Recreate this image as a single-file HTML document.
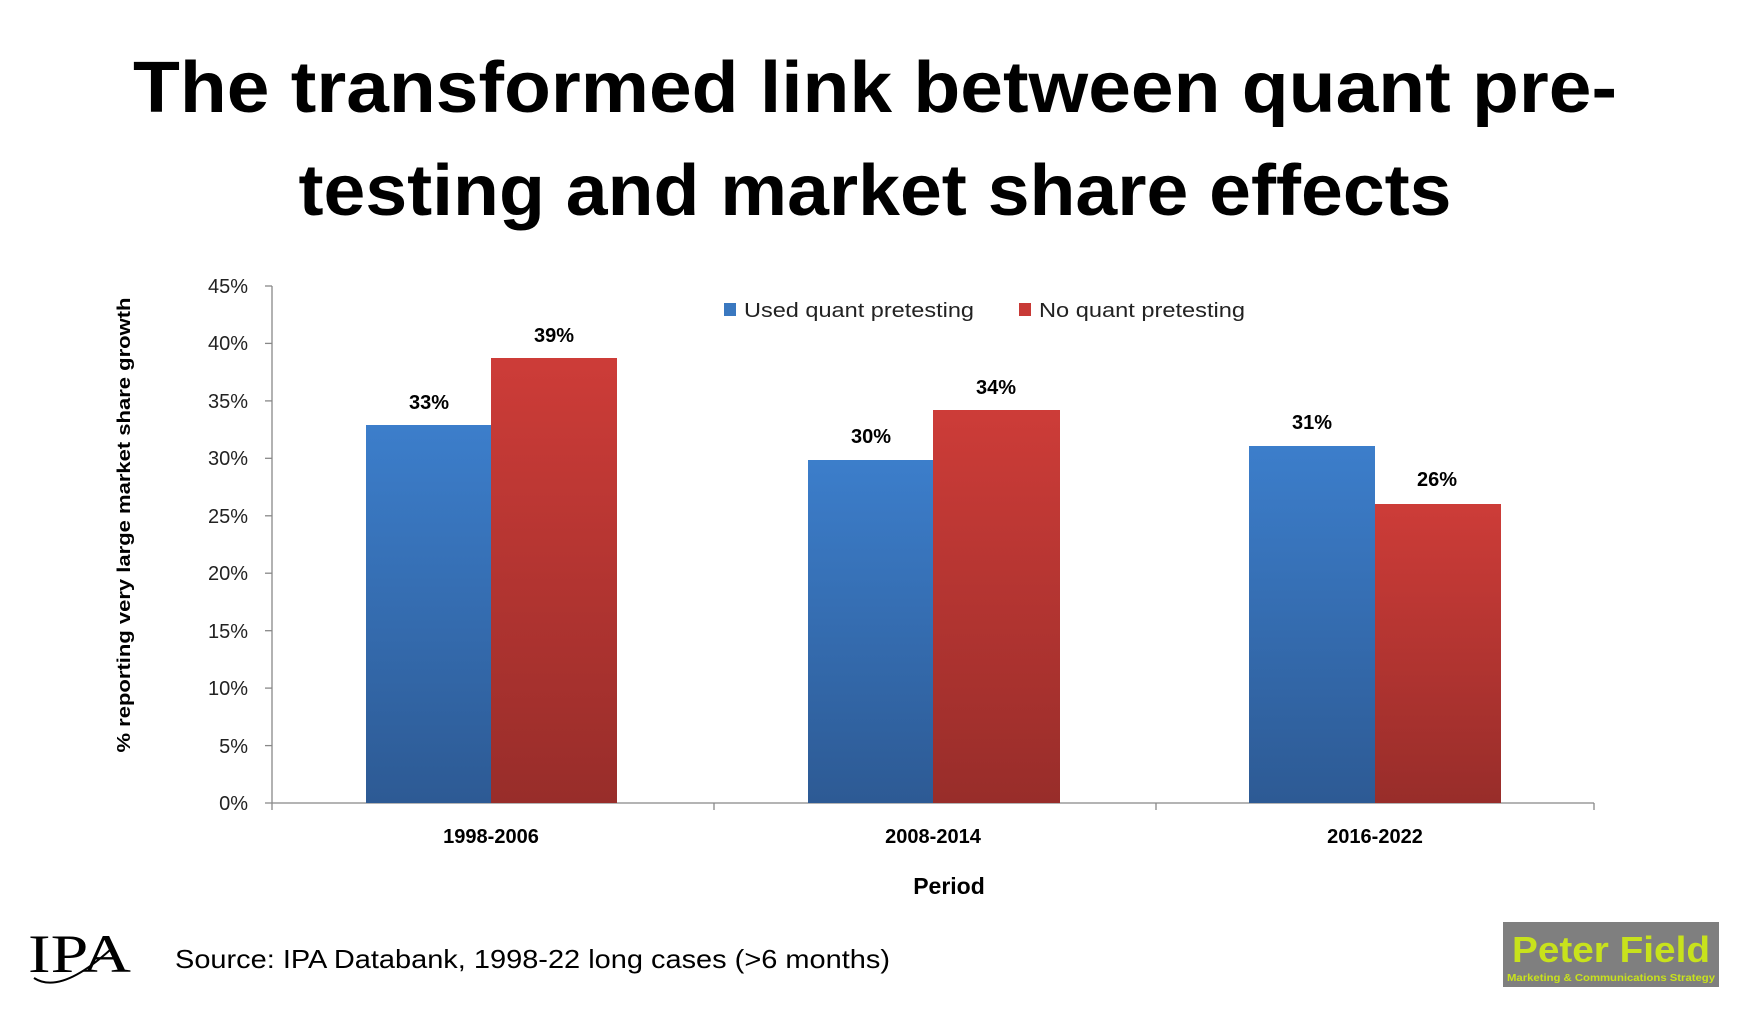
<!DOCTYPE html>
<html><head><meta charset="utf-8"><style>html,body{margin:0;padding:0;background:#fff;}svg{display:block;}</style></head>
<body>
<svg width="1756" height="1016" viewBox="0 0 1756 1016" xmlns="http://www.w3.org/2000/svg" font-family="Liberation Sans, sans-serif">
<defs>
<linearGradient id="b" x1="0" y1="0" x2="0" y2="1"><stop offset="0" stop-color="#3c7ecb"/><stop offset="1" stop-color="#2d5a94"/></linearGradient>
<linearGradient id="r" x1="0" y1="0" x2="0" y2="1"><stop offset="0" stop-color="#cd3c38"/><stop offset="1" stop-color="#982d2a"/></linearGradient>
</defs>
<text x="875" y="112" text-anchor="middle" font-size="72" font-weight="bold" textLength="1484" lengthAdjust="spacingAndGlyphs">The transformed link between quant pre-</text>
<text x="875" y="215" text-anchor="middle" font-size="72" font-weight="bold" textLength="1153" lengthAdjust="spacingAndGlyphs">testing and market share effects</text>
<!-- axes -->
<g stroke="#888" stroke-width="1.3">
<line x1="272" y1="286" x2="272" y2="810"/>
<line x1="265" y1="803" x2="1594" y2="803"/>
<line x1="714" y1="803" x2="714" y2="810"/>
<line x1="1156" y1="803" x2="1156" y2="810"/>
<line x1="1594" y1="803" x2="1594" y2="810"/>
<line x1="265" y1="286" x2="272" y2="286"/><line x1="265" y1="343.4" x2="272" y2="343.4"/><line x1="265" y1="400.9" x2="272" y2="400.9"/><line x1="265" y1="458.3" x2="272" y2="458.3"/><line x1="265" y1="515.8" x2="272" y2="515.8"/><line x1="265" y1="573.2" x2="272" y2="573.2"/><line x1="265" y1="630.7" x2="272" y2="630.7"/><line x1="265" y1="688.1" x2="272" y2="688.1"/><line x1="265" y1="745.6" x2="272" y2="745.6"/>
</g>
<g font-size="20" text-anchor="end" fill="#222">
<text x="248" y="293">45%</text><text x="248" y="350">40%</text><text x="248" y="408">35%</text><text x="248" y="465">30%</text><text x="248" y="523">25%</text><text x="248" y="580">20%</text><text x="248" y="638">15%</text><text x="248" y="695">10%</text><text x="248" y="753">5%</text><text x="248" y="810">0%</text>
</g>
<text transform="translate(130,525) rotate(-90)" text-anchor="middle" font-size="18" font-weight="bold" textLength="455" lengthAdjust="spacingAndGlyphs">% reporting very large market share growth</text>
<!-- bars -->
<rect x="366" y="425" width="125" height="378" fill="url(#b)"/>
<rect x="491" y="358" width="126" height="445" fill="url(#r)"/>
<rect x="808" y="460" width="125" height="343" fill="url(#b)"/>
<rect x="933" y="410" width="127" height="393" fill="url(#r)"/>
<rect x="1249" y="446" width="126" height="357" fill="url(#b)"/>
<rect x="1375" y="504" width="126" height="299" fill="url(#r)"/>
<g font-size="20" font-weight="bold" text-anchor="middle">
<text x="429" y="409">33%</text><text x="554" y="342">39%</text>
<text x="871" y="443">30%</text><text x="996" y="394">34%</text>
<text x="1312" y="429">31%</text><text x="1437" y="486">26%</text>
<text x="491" y="843">1998-2006</text><text x="933" y="843">2008-2014</text><text x="1375" y="843">2016-2022</text>
<text x="949" y="894" font-size="23">Period</text>
</g>
<!-- legend -->
<rect x="724" y="303" width="12" height="13" fill="#3a78c0"/>
<text x="744" y="317" font-size="20" fill="#222" textLength="230" lengthAdjust="spacingAndGlyphs">Used quant pretesting</text>
<rect x="1019" y="303" width="12" height="13" fill="#c83a36"/>
<text x="1039" y="317" font-size="20" fill="#222" textLength="206" lengthAdjust="spacingAndGlyphs">No quant pretesting</text>
<!-- footer -->
<text x="28" y="972" font-family="Liberation Serif, serif" font-size="54" textLength="103" lengthAdjust="spacingAndGlyphs">IPA</text>
<path d="M34 978 Q60 995 110 950" stroke="#000" stroke-width="2" fill="none"/>
<text x="175" y="968" font-size="26" textLength="715" lengthAdjust="spacingAndGlyphs">Source: IPA Databank, 1998-22 long cases (&gt;6 months)</text>
<rect x="1503" y="922" width="216" height="65" fill="#7f7f7f"/>
<text x="1611" y="962" text-anchor="middle" font-size="36" font-weight="bold" fill="#c8e21c" textLength="198" lengthAdjust="spacingAndGlyphs">Peter Field</text>
<text x="1611" y="981" text-anchor="middle" font-size="10" font-weight="bold" fill="#c8e21c" textLength="208" lengthAdjust="spacingAndGlyphs">Marketing &amp; Communications Strategy</text>
</svg>
</body></html>
